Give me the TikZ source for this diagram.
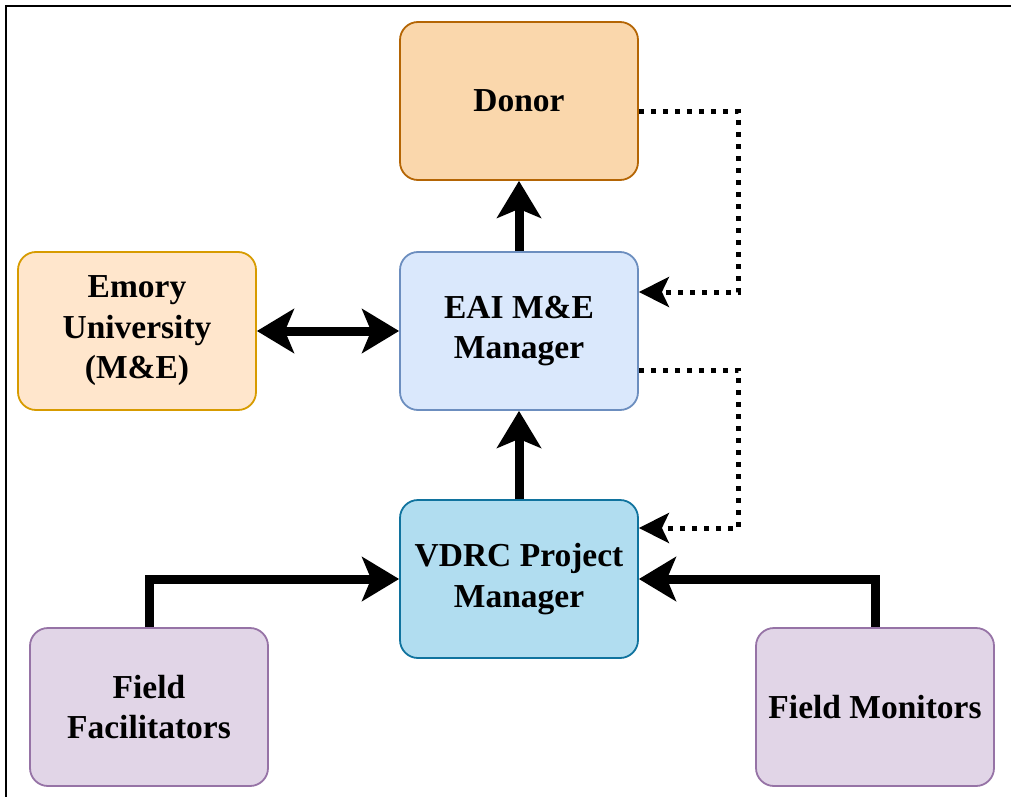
\documentclass[tikz,border=0pt]{standalone}
\usepackage{fontspec}
\setmainfont{Liberation Serif}
\usetikzlibrary{arrows.meta}
\definecolor{donorF}{HTML}{FAD7AC}\definecolor{donorD}{HTML}{B46504}
\definecolor{emoryF}{HTML}{FFE6CC}\definecolor{emoryD}{HTML}{D79B00}
\definecolor{eaiF}{HTML}{DAE8FC}\definecolor{eaiD}{HTML}{6C8EBF}
\definecolor{vdrcF}{HTML}{B1DDF0}\definecolor{vdrcD}{HTML}{10739E}
\definecolor{fieldF}{HTML}{E1D5E7}\definecolor{fieldD}{HTML}{9673A6}
\tikzset{
  box/.style={draw, rounded corners=18pt, minimum width=238pt, minimum height=158pt,
    line width=1.8pt, align=center, inner sep=2pt,
    font=\fontsize{33.5}{40.5}\selectfont\bfseries},
  thickarrow/.style={line width=9pt, -{Stealth[length=37pt, width=44pt, inset=9pt]}},
  boththick/.style={line width=9pt, {Stealth[length=37pt, width=44pt, inset=9pt]}-{Stealth[length=37pt, width=44pt, inset=9pt]}},
  dotarrow/.style={line width=5pt, dash pattern=on 5pt off 7pt, line cap=butt,
    -{Stealth[length=30pt, width=30pt, inset=7pt]}},
}
\begin{document}
\begin{tikzpicture}[x=1pt, y=-1pt]
\useasboundingbox (0,0) rectangle (1011,797);
\draw[line width=2.2pt] (6,797) -- (6,6) -- (1011,6);
\node[box, fill=donorF, draw=donorD] (donor) at (519,101) {Donor};
\node[box, fill=eaiF, draw=eaiD] (eai) at (519,331) {EAI M\&E\\Manager};
\node[box, fill=emoryF, draw=emoryD] (emory) at (137,331) {Emory\\University\\(M\&E)};
\node[box, fill=vdrcF, draw=vdrcD] (vdrc) at (519,579) {VDRC Project\\Manager};
\node[box, fill=fieldF, draw=fieldD] (ff) at (149,707) {Field\\Facilitators};
\node[box, fill=fieldF, draw=fieldD] (fm) at (875,707) {Field Monitors};
\draw[thickarrow] (eai.north) -- (donor.south);
\draw[boththick] (emory.east) -- (eai.west);
\draw[thickarrow] (vdrc.north) -- (eai.south);
\draw[thickarrow] (ff.north) |- (vdrc.west);
\draw[thickarrow] (fm.north) |- (vdrc.east);
\draw[dotarrow] ([yshift=-11pt]donor.east) -- ++(100,0) |- ([yshift=39pt]eai.east);
\draw[dotarrow] ([yshift=-39pt]eai.east) -- ++(100,0) |- ([yshift=51pt]vdrc.east);
\end{tikzpicture}
\end{document}
